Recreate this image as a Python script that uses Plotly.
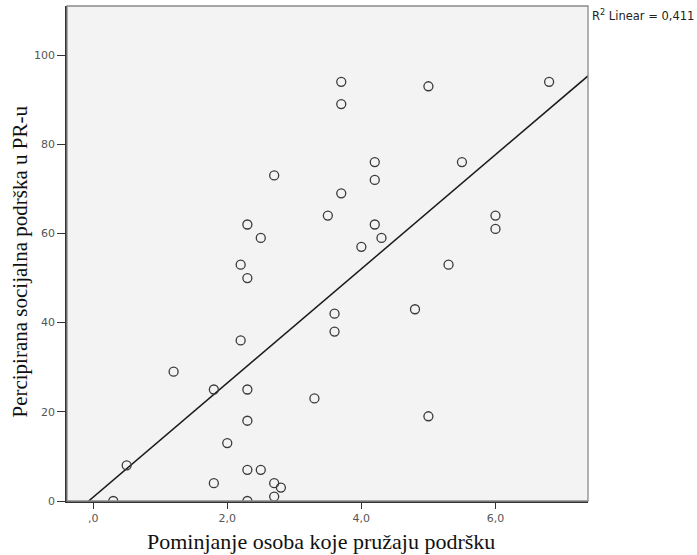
import numpy as np
import plotly.graph_objects as go

# Data
x_vals = [0.3, 0.5, 1.2, 1.8, 1.8, 2.0, 2.2, 2.2, 2.3, 2.3, 2.3, 2.3, 2.3, 2.3,
          2.5, 2.5, 2.7, 2.7, 2.7, 2.8, 3.3, 3.5, 3.6, 3.6, 3.7, 3.7, 3.7, 4.0,
          4.2, 4.2, 4.2, 4.3, 4.8, 5.0, 5.0, 5.3, 5.5, 6.0, 6.0, 6.8]
y_vals = [0, 8, 29, 25, 4, 13, 36, 53, 25, 18, 7, 0, 62, 50,
          7, 59, 4, 1, 73, 3, 23, 64, 42, 38, 94, 89, 69, 57,
          76, 72, 62, 59, 43, 93, 19, 53, 76, 64, 61, 94]
x_tick_vals = [0, 2, 4, 6]
x_tick_text = [",0", "2,0", "4,0", "6,0"]
y_tick_vals = [0, 20, 40, 60, 80, 100]
x_title = "Pominjanje osoba koje pružaju podršku"
y_title = "Percipirana socijalna podrška u PR-u"

x_range = [-0.39, 7.38]
y_range = [0, 111]

x = np.array(x_vals, dtype=float)
y = np.array(y_vals, dtype=float)
slope, intercept = np.polyfit(x, y, 1)
pred = slope * x + intercept
r2 = 1 - np.sum((y - pred) ** 2) / np.sum((y - y.mean()) ** 2)
r2_text = f"{r2:.3f}".replace(".", ",")

line_x = np.array(x_range)
line_y = slope * line_x + intercept

fig = go.Figure()
fig.add_trace(go.Scatter(
    x=line_x, y=line_y, mode="lines",
    line=dict(color="#1a1a1a", width=1.5),
    hoverinfo="skip", showlegend=False,
))
fig.add_trace(go.Scatter(
    x=x, y=y, mode="markers",
    marker=dict(symbol="circle-open", size=9, color="#3a3a3a",
                line=dict(width=1.3, color="#3a3a3a")),
    showlegend=False,
))

tick_font = dict(family="DejaVu Sans, Verdana, sans-serif", size=11, color="#555555")
title_font = "Liberation Serif, Times New Roman, serif"

fig.update_layout(
    width=697, height=555,
    margin=dict(l=67, r=109, t=6, b=54, autoexpand=False),
    paper_bgcolor="white",
    plot_bgcolor="#f3f3f3",
    font=dict(family="DejaVu Sans, Verdana, sans-serif", size=11, color="#555555"),
    shapes=[dict(type="rect", xref="paper", yref="paper", x0=0, y0=0, x1=1, y1=1,
                 line=dict(color="#8a8a8a", width=1.3), fillcolor="rgba(0,0,0,0)",
                 layer="above")],
    annotations=[
        dict(xref="paper", yref="paper", x=1.003, y=1.0, xanchor="left", yanchor="top",
             text=f"R<sup>2</sup> Linear = {r2_text}", showarrow=False,
             font=dict(family="DejaVu Sans, Verdana, sans-serif", size=11.5, color="#222222")),
        dict(xref="paper", yref="paper", x=0.4875, y=-0.081, xanchor="center", yanchor="middle",
             text=x_title, showarrow=False,
             font=dict(family=title_font, size=22, color="#111111")),
        dict(xref="paper", yref="paper", x=-0.09, y=0.484, xanchor="center", yanchor="middle",
             text=y_title, textangle=-90, showarrow=False,
             font=dict(family=title_font, size=21, color="#111111")),
    ],
)
fig.update_xaxes(
    range=x_range, tickvals=x_tick_vals, ticktext=x_tick_text,
    showgrid=False, zeroline=False, automargin=False,
    showline=True, linecolor="#333333", linewidth=1.5,
    ticks="outside", ticklen=6, tickcolor="#333333", tickwidth=1.3,
    tickfont=tick_font,
)
fig.update_yaxes(
    range=y_range, tickvals=y_tick_vals,
    showgrid=False, zeroline=False, automargin=False,
    showline=True, linecolor="#333333", linewidth=1.5,
    ticks="outside", ticklen=8, tickcolor="#333333", tickwidth=1.3,
    tickfont=tick_font,
)

fig.write_html("out.html", config={"displayModeBar": False},
               post_script="document.body.style.margin='0';")
